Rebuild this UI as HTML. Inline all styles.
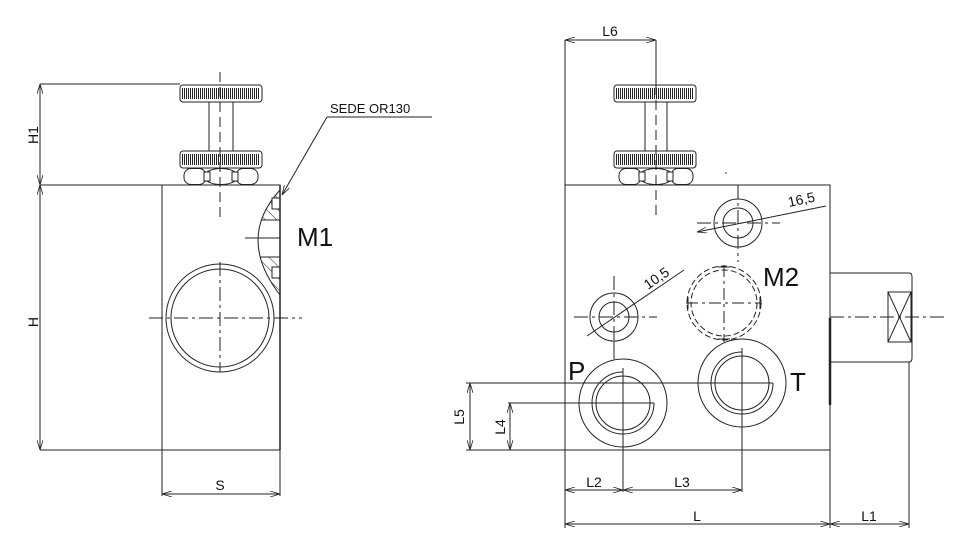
<!DOCTYPE html>
<html><head><meta charset="utf-8"><style>
html,body{margin:0;padding:0;background:#fff}
svg{display:block}
text{font-family:"Liberation Sans",sans-serif;fill:#111}
</style></head><body>
<svg width="964" height="543" viewBox="0 0 964 543" xmlns="http://www.w3.org/2000/svg">
<defs>
<pattern id="kn" width="2" height="10" patternUnits="userSpaceOnUse"><rect width="1" height="10" fill="#222"/></pattern>
<pattern id="hat" width="8" height="8" patternUnits="userSpaceOnUse" patternTransform="rotate(-45)"><line x1="0" y1="0" x2="0" y2="8" stroke="#222" stroke-width="1"/></pattern>
<clipPath id="arcclip"><path d="M280,190 Q236,238 280,295 Z"/></clipPath>
<marker id="a" viewBox="0 0 10 6" refX="10" refY="3" markerWidth="10" markerHeight="6" orient="auto-start-reverse" markerUnits="userSpaceOnUse"><path d="M0,0 L10,3 L0,6" fill="none" stroke="#222" stroke-width="0.8"/></marker>
<g id="knob">
 <rect x="0" y="0" width="82" height="17" rx="3" fill="#fff" stroke="#222" stroke-width="1"/>
 <rect x="2" y="3" width="78" height="11" fill="url(#kn)"/>
</g>
<g id="nut" fill="#fff" stroke="#222" stroke-width="1">
 <rect x="0" y="0.5" width="22" height="16" rx="7"/>
 <rect x="52" y="0.5" width="22" height="16" rx="7"/>
 <ellipse cx="37" cy="8.5" rx="17" ry="8"/>
 <rect x="20" y="4" width="6" height="9"/>
 <rect x="48" y="4" width="6" height="9"/>
</g>
</defs>
<g fill="none" stroke="#222" stroke-width="1">
<!-- LEFT VIEW -->
<rect x="162" y="185" width="118" height="265"/>
<line x1="40" y1="84" x2="180" y2="84"/>
<line x1="40" y1="185" x2="162" y2="185"/>
<line x1="40" y1="450" x2="162" y2="450"/>
<line x1="40" y1="84" x2="40" y2="185" marker-start="url(#a)" marker-end="url(#a)"/>
<line x1="40" y1="185" x2="40" y2="450" marker-start="url(#a)" marker-end="url(#a)"/>
<line x1="162" y1="450" x2="162" y2="496"/>
<line x1="280" y1="450" x2="280" y2="496"/>
<line x1="162" y1="494" x2="280" y2="494" marker-start="url(#a)" marker-end="url(#a)"/>
<line x1="209" y1="102" x2="209" y2="152"/><line x1="233" y1="102" x2="233" y2="152"/>
</g>
<use href="#knob" x="180" y="85"/>
<use href="#knob" x="180" y="151"/>
<use href="#nut" x="184" y="168"/>
<g fill="none" stroke="#222" stroke-width="1">
<line x1="220" y1="72" x2="220" y2="222" stroke-dasharray="10,5"/>
<circle cx="220" cy="318" r="54"/>
<circle cx="220" cy="318" r="49"/>
<line x1="149" y1="318" x2="302" y2="318" stroke-dasharray="14,4,3,4"/>
<line x1="220" y1="262" x2="220" y2="372" stroke-dasharray="14,4,3,4"/>
<!-- M1 section -->
<g clip-path="url(#arcclip)">
 <rect x="240" y="185" width="40" height="35" fill="url(#hat)" stroke="none"/>
 <rect x="240" y="257" width="40" height="40" fill="url(#hat)" stroke="none"/>
 <line x1="240" y1="220" x2="280" y2="220"/>
 <line x1="240" y1="257" x2="280" y2="257"/>
</g>
<path d="M280,190 Q236,238 280,295"/>
<line x1="245" y1="238" x2="280" y2="238"/>
<rect x="272" y="198" width="8" height="11" fill="#fff"/>
<rect x="272" y="267" width="8" height="11" fill="#fff"/>
<line x1="280" y1="185" x2="280" y2="450" stroke-width="1.5"/>
<line x1="327" y1="117" x2="432" y2="117"/>
<line x1="327" y1="117" x2="282" y2="195" marker-end="url(#a)"/>

<!-- RIGHT VIEW -->
<rect x="565" y="185" width="265" height="265"/>
<line x1="565" y1="40" x2="565" y2="185"/>
<line x1="656" y1="40" x2="656" y2="85"/>
<line x1="565" y1="40" x2="656" y2="40" marker-start="url(#a)" marker-end="url(#a)"/>
<line x1="645" y1="102" x2="645" y2="152"/><line x1="667" y1="102" x2="667" y2="152"/>
</g>
<use href="#knob" x="614" y="85"/>
<use href="#knob" x="614" y="151"/>
<use href="#nut" x="619" y="168"/>
<g fill="none" stroke="#222" stroke-width="1">
<line x1="656" y1="85" x2="656" y2="218" stroke-dasharray="10,5"/>
<circle cx="738" cy="223" r="24"/><circle cx="738" cy="223" r="15"/>
<line x1="738" y1="185" x2="738" y2="262" stroke-dasharray="14,4,3,4"/>
<line x1="697" y1="223" x2="780" y2="223" stroke-dasharray="14,4,3,4"/>
<line x1="826" y1="206" x2="697" y2="232" marker-end="url(#a)"/>
<circle cx="724" cy="303" r="37" stroke-dasharray="6,3"/>
<circle cx="724" cy="303" r="33" stroke-dasharray="6,3"/>
<line x1="686" y1="303" x2="762" y2="303" stroke-dasharray="12,4,3,4"/>
<line x1="724" y1="265" x2="724" y2="341" stroke-dasharray="12,4,3,4"/>
<line x1="718" y1="267" x2="730" y2="267"/><line x1="718" y1="339" x2="730" y2="339"/>
<line x1="688" y1="297" x2="688" y2="309"/><line x1="760" y1="297" x2="760" y2="309"/>
<circle cx="614" cy="317" r="24"/><circle cx="614" cy="317" r="15"/>
<line x1="574" y1="317" x2="657" y2="317" stroke-dasharray="14,4,3,4"/>
<line x1="614" y1="276" x2="614" y2="341" stroke-dasharray="14,4,3,4"/>
<line x1="614" y1="341" x2="614" y2="359"/>
<line x1="724" y1="341" x2="724" y2="342"/>
<line x1="587" y1="336" x2="684" y2="270"/>
<!-- P port -->
<circle cx="623" cy="403" r="44"/>
<circle cx="623" cy="403" r="27"/>
<path d="M623,372 A31,31 0 1 0 654,403"/>
<line x1="623" y1="372" x2="623" y2="376"/><line x1="654" y1="403" x2="650" y2="403"/>
<!-- T port -->
<circle cx="742" cy="383" r="44"/>
<circle cx="742" cy="383" r="27"/>
<path d="M742,352 A31,31 0 1 0 773,383"/>
<line x1="742" y1="352" x2="742" y2="356"/><line x1="773" y1="383" x2="769" y2="383"/>
<!-- dims -->
<line x1="466" y1="383" x2="773" y2="383"/>
<line x1="508" y1="403" x2="654" y2="403"/>
<line x1="466" y1="450" x2="565" y2="450"/>
<line x1="470" y1="383" x2="470" y2="450" marker-start="url(#a)" marker-end="url(#a)"/>
<line x1="510" y1="403" x2="510" y2="450" marker-start="url(#a)" marker-end="url(#a)"/>
<line x1="623" y1="368" x2="623" y2="492"/>
<line x1="742" y1="348" x2="742" y2="492"/>
<line x1="565" y1="450" x2="565" y2="528"/>
<line x1="830" y1="450" x2="830" y2="528"/>
<line x1="909" y1="362" x2="909" y2="528"/>
<line x1="565" y1="490" x2="623" y2="490" marker-start="url(#a)" marker-end="url(#a)"/>
<line x1="623" y1="490" x2="742" y2="490" marker-start="url(#a)" marker-end="url(#a)"/>
<line x1="565" y1="524" x2="830" y2="524" marker-start="url(#a)" marker-end="url(#a)"/>
<line x1="830" y1="524" x2="909" y2="524" marker-start="url(#a)" marker-end="url(#a)"/>
<path d="M830,273 H909 Q912,273 912,277 V358 Q912,362 909,362 H830"/>
<rect x="888" y="292" width="23" height="50"/>
<line x1="888" y1="292" x2="911" y2="342"/><line x1="911" y1="292" x2="888" y2="342"/>
<line x1="830" y1="318" x2="830" y2="405" stroke-width="2.5"/>
<line x1="830" y1="317" x2="946" y2="317" stroke-dasharray="14,4,3,4"/>
</g>
<circle cx="726" cy="173" r="0.8" fill="#222"/>
<g font-size="14">
<text x="38" y="135" transform="rotate(-90 38 135)" text-anchor="middle">H1</text>
<text x="38" y="322" transform="rotate(-90 38 322)" text-anchor="middle">H</text>
<text x="220" y="490" text-anchor="middle">S</text>
<text x="330" y="113" font-size="13">SEDE OR130</text>
<text x="610" y="36" text-anchor="middle">L6</text>
<text x="464" y="417" transform="rotate(-90 464 417)" text-anchor="middle">L5</text>
<text x="505" y="427" transform="rotate(-90 505 427)" text-anchor="middle">L4</text>
<text x="594" y="487" text-anchor="middle">L2</text>
<text x="682" y="487" text-anchor="middle">L3</text>
<text x="697" y="521" text-anchor="middle">L</text>
<text x="869" y="521" text-anchor="middle">L1</text>
<text x="789" y="207" transform="rotate(-12 789 207)">16,5</text>
<text x="648" y="290" transform="rotate(-35 648 290)">10,5</text>
</g>
<g font-size="26">
<text x="297" y="246">M1</text>
<text x="763" y="286">M2</text>
<text x="568" y="380">P</text>
<text x="790" y="391">T</text>
</g>
</svg>
</body></html>
